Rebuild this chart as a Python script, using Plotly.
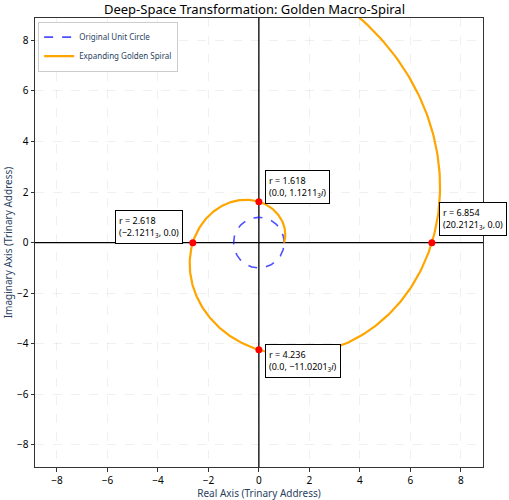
import numpy as np
import plotly.graph_objects as go

PHI = (1 + 5 ** 0.5) / 2
SPIRAL_TURNS = 1.5          # full turns drawn (theta from 0 to 3*pi)
N_SAMPLES = 600

# Key points on the spiral (quarter-turn angles in degrees)
key_angles_deg = [90, 180, 270, 360]
key_radius_labels = ["1.618", "2.618", "4.236", "6.854"]
key_coord_labels = [
    "(0.0, 1.1211<sub>3</sub><i>i</i>)",
    "(−2.1211<sub>3</sub>, 0.0)",
    "(0.0, −11.0201<sub>3</sub><i>i</i>)",
    "(20.2121<sub>3</sub>, 0.0)",
]
x_ticks = [-8, -6, -4, -2, 0, 2, 4, 6, 8]
y_ticks = [-8, -6, -4, -2, 0, 2, 4, 6, 8]
AX_RANGE = [-8.87, 8.88]

# Unit circle
t = np.linspace(0, 2 * np.pi, 400)
cx, cy = np.cos(t), np.sin(t)

# Golden spiral r = phi^(2 theta / pi)
theta = np.linspace(0, 2 * np.pi * SPIRAL_TURNS, N_SAMPLES)
r = PHI ** (2 * theta / np.pi)
sx, sy = r * np.cos(theta), r * np.sin(theta)

ka = np.radians(key_angles_deg)
kr = PHI ** (2 * ka / np.pi)
kx = np.round(kr * np.cos(ka), 10)
ky = np.round(kr * np.sin(ka), 10)

font = "Noto Sans"
fig = go.Figure()
fig.add_trace(go.Scatter(x=cx, y=cy, mode="lines", name="Original Unit Circle",
                         line=dict(color="rgba(30,30,255,0.78)", width=1.6, dash="dash")))
fig.add_trace(go.Scatter(x=sx, y=sy, mode="lines", name="Expanding Golden Spiral",
                         line=dict(color="#FFA500", width=2.2)))
fig.add_trace(go.Scatter(x=kx, y=ky, mode="markers", showlegend=False,
                         marker=dict(color="red", size=7)))

# axis lines through origin
fig.add_shape(type="line", x0=AX_RANGE[0], x1=AX_RANGE[1], y0=0, y1=0,
              line=dict(color="black", width=1.3), layer="below")
fig.add_shape(type="line", x0=0, x1=0, y0=AX_RANGE[0], y1=AX_RANGE[1],
              line=dict(color="black", width=1.3), layer="below")

placements = [
    dict(xanchor="left", yanchor="bottom", xshift=6, yshift=-2),
    dict(xanchor="right", yanchor="bottom", xshift=-10, yshift=-1),
    dict(xanchor="left", yanchor="top", xshift=6, yshift=6),
    dict(xanchor="left", yanchor="bottom", xshift=7, yshift=7),
]
for x, y, rl, cl, pl in zip(kx, ky, key_radius_labels, key_coord_labels, placements):
    fig.add_annotation(x=x, y=y, text=f"r = {rl}<br>{cl}", showarrow=False,
                       align="left", bgcolor="white", bordercolor="black",
                       borderwidth=1, borderpad=3,
                       font=dict(family=font, size=9, color="black"), **pl)

axis_common = dict(range=AX_RANGE, showgrid=True, gridcolor="rgba(0,0,0,0.06)",
                   griddash="dash", gridwidth=1, zeroline=False, showline=True,
                   linecolor="#333", linewidth=1, mirror=True, ticks="outside",
                   ticklen=3.5, tickcolor="#333", automargin=False,
                   tickfont=dict(family=font, size=10, color="black"))
fig.update_xaxes(tickvals=x_ticks, ticktext=[str(v).replace("-", "−") for v in x_ticks],
                 title=dict(text="Real Axis (Trinary Address)", font=dict(family=font, size=10), standoff=0),
                 **axis_common)
fig.update_yaxes(tickvals=y_ticks, ticktext=[str(v).replace("-", "−") for v in y_ticks],
                 title=dict(text="Imaginary Axis (Trinary Address)", font=dict(family=font, size=10), standoff=2),
                 **axis_common)

fig.update_layout(
    width=509, height=500,
    margin=dict(l=35, r=26, t=18, b=33, autoexpand=False),
    plot_bgcolor="white", paper_bgcolor="white",
    title=dict(text="Deep-Space Transformation: Golden Macro-Spiral", x=0.5, xanchor="center",
               y=0.982, yanchor="middle", font=dict(family=font, size=13, color="black")),
    legend=dict(x=0.007, y=0.992, xanchor="left", yanchor="top", bgcolor="white",
                bordercolor="#ccc", borderwidth=1, font=dict(family=font, size=8),
                tracegroupgap=0, itemwidth=30),
    showlegend=True,
)
fig.write_html("out.html")
